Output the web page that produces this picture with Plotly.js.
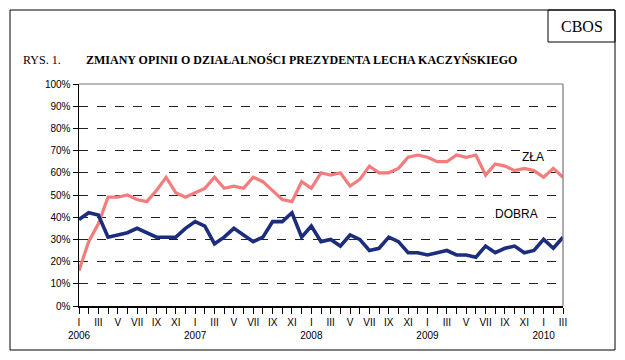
<!DOCTYPE html>
<html>
<head>
<meta charset="utf-8">
<script src="https://cdn.plot.ly/plotly-3.0.1.min.js"></script>
<style>
html,body{margin:0;padding:0;background:#fff;}
#chart{width:625px;height:360px;}
</style>
</head>
<body>
<div id="chart"></div>
<script>
// Monthly surveys, I 2006 – III 2010
const months = ["I","II","III","IV","V","VI","VII","VIII","IX","X","XI","XII"];
const years = [2006, 2007, 2008, 2009, 2010];
const zla = [16,29,37,49,49,50,48,47,52,58,51,49,51,53,58,53,54,53,58,56,52,48,47,56,53,60,59,60,54,57,63,60,60,62,67,68,67,65,65,68,67,68,59,64,63,61,62,61,58,62,58];
const dobra = [39,42,41,31,32,33,35,33,31,31,31,35,38,36,28,31,35,32,29,31,38,38,42,31,36,29,30,27,32,30,25,26,31,29,24,24,23,24,25,23,23,22,27,24,26,27,24,25,30,26,31];

const n = zla.length;
const xs = zla.map((_, i) => i);
const tickvals = [], ticktext = [];
for (let i = 0; i < n; i++) {
  const m = i % 12;
  const y = years[Math.floor(i / 12)];
  tickvals.push(i);
  if (m % 2 === 0) {
    ticktext.push(m === 0 ? months[m] + "<br>" + y : months[m]);
  } else {
    ticktext.push("");
  }
}

// pixel -> paper helpers (plot area 79..563 x 84..306)
const L = 79, R = 563, T = 84, B = 306;
const px = v => (v - L) / (R - L);
const py = v => (B - v) / (B - T);

const traces = [
  {x: xs, y: zla, type: "scatter", mode: "lines", name: "ZŁA",
   line: {color: "#F47C7C", width: 3.2}, hoverinfo: "skip"},
  {x: xs, y: dobra, type: "scatter", mode: "lines", name: "DOBRA",
   line: {color: "#1C2D7E", width: 3.6}, hoverinfo: "skip"}
];

const layout = {
  width: 625, height: 360,
  margin: {l: L, r: 625 - R, t: T, b: 360 - B, pad: 0},
  paper_bgcolor: "#fff", plot_bgcolor: "#fff",
  showlegend: false,
  font: {family: "Liberation Sans, Arial, sans-serif", size: 10, color: "#000"},
  xaxis: {
    range: [0, n - 1], tickmode: "array", tickvals: tickvals, ticktext: ticktext,
    ticks: "outside", ticklen: 6, tickwidth: 1, tickcolor: "#000",
    showline: true, linecolor: "#000", linewidth: 1.5,
    showgrid: false, zeroline: false, tickangle: 0,
    tickfont: {family: "Liberation Sans, Arial, sans-serif", size: 10, color: "#000"},
    fixedrange: true
  },
  yaxis: {
    range: [0, 100], dtick: 10, ticksuffix: "%",
    ticks: "outside", ticklen: 5, tickcolor: "#000",
    showline: true, linecolor: "#000", linewidth: 1.5,
    showgrid: true, gridcolor: "#222", gridwidth: 1, griddash: "dash",
    zeroline: false,
    tickfont: {family: "Liberation Sans, Arial, sans-serif", size: 10, color: "#000"},
    fixedrange: true
  },
  shapes: [
    {type: "rect", xref: "paper", yref: "paper", x0: px(10), x1: px(615), y0: py(350), y1: py(10),
     line: {color: "#000", width: 1}, layer: "below"},
    {type: "rect", xref: "paper", yref: "paper", x0: px(548), x1: px(615), y0: py(42), y1: py(10),
     line: {color: "#000", width: 1}},
    {type: "line", xref: "paper", yref: "paper", x0: 0, x1: 1, y0: 1, y1: 1,
     line: {color: "#777", width: 1.2}},
    {type: "line", xref: "paper", yref: "paper", x0: 1, x1: 1, y0: 0, y1: 1,
     line: {color: "#777", width: 1.2}}
  ],
  annotations: [
    {text: "CBOS", xref: "paper", yref: "paper", x: px(581.5), y: py(26),
     xanchor: "center", yanchor: "middle", showarrow: false,
     font: {family: "Liberation Serif, Times New Roman, serif", size: 16, color: "#000"}},
    {text: "RYS. 1.", xref: "paper", yref: "paper", x: px(21), y: py(60),
     xanchor: "left", yanchor: "middle", showarrow: false,
     font: {family: "Liberation Serif, Times New Roman, serif", size: 12, color: "#000"}},
    {text: "<b>ZMIANY OPINII O DZIAŁALNOŚCI PREZYDENTA LECHA KACZYŃSKIEGO</b>", xref: "paper", yref: "paper",
     x: px(84), y: py(60), xanchor: "left", yanchor: "middle", showarrow: false,
     font: {family: "Liberation Serif, Times New Roman, serif", size: 12, color: "#000"}},
    {text: "ZŁA", xref: "x", yref: "y", x: 46.9, y: 67.3, xanchor: "center", yanchor: "middle",
     showarrow: false, bgcolor: "#fff", borderpad: 1,
     font: {family: "Liberation Sans, Arial, sans-serif", size: 12, color: "#000"}},
    {text: "DOBRA", xref: "x", yref: "y", x: 45.2, y: 41.3, xanchor: "center", yanchor: "middle",
     showarrow: false, bgcolor: "#fff", borderpad: 1,
     font: {family: "Liberation Sans, Arial, sans-serif", size: 12, color: "#000"}}
  ]
};

Plotly.newPlot("chart", traces, layout, {displayModeBar: false, staticPlot: true});
</script>
</body>
</html>
